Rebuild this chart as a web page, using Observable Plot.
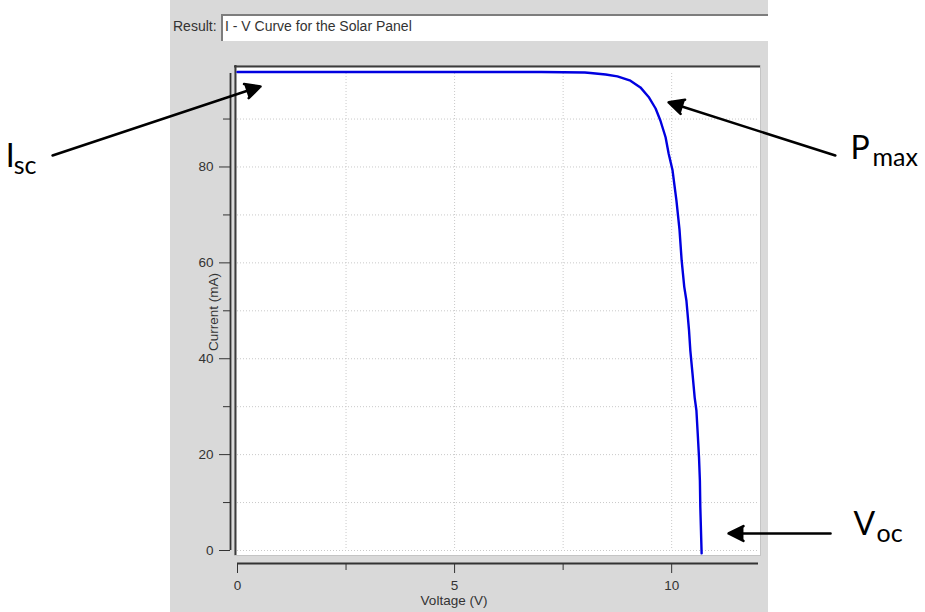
<!DOCTYPE html>
<html>
<head>
<meta charset="utf-8">
<script src="https://cdn.jsdelivr.net/npm/d3@7"></script>
<script src="https://cdn.jsdelivr.net/npm/@observablehq/plot@0.6"></script>
<style>
  html, body { margin: 0; padding: 0; background: #ffffff; }
  #wrap { position: relative; width: 925px; height: 612px; overflow: hidden; background: #ffffff; font-family: "Liberation Sans", Arial, sans-serif; }
  #panel { position: absolute; left: 170px; top: 0; width: 598px; height: 612px; background: #d9d9d9; }
  #resLabel { position: absolute; left: 173px; top: 18px; font-size: 14px; color: #333; }
  #resBox { position: absolute; left: 221px; top: 14px; width: 547px; height: 27px; background: #fff;
            border-top: 2px solid #7d7d7d; border-left: 2px solid #7d7d7d; box-sizing: border-box; }
  #resText { position: absolute; left: 225px; top: 18px; font-size: 14px; color: #333; white-space: nowrap; }
  #chart { position: absolute; left: 0; top: 0; }
</style>
</head>
<body>
<div id="wrap">
  <div id="panel"></div>
  <div id="resLabel">Result:</div>
  <div id="resBox"></div>
  <div id="resText"></div>
  <div id="chart"></div>
</div>
<script>
// ---- data ----
const titleText = "I - V Curve for the Solar Panel";
const xLabel = "Voltage (V)";
const yLabel = "Current (mA)";

const voltage = [0, 1, 2, 3, 4, 5, 6, 7, 8.0, 8.13, 8.48, 8.75, 9.05, 9.28, 9.47, 9.63, 9.74, 9.86, 9.93, 10.02, 10.11, 10.18, 10.23, 10.29, 10.34, 10.40, 10.43, 10.48, 10.53, 10.57, 10.60, 10.63, 10.65, 10.66, 10.69];
const current = [99.8, 99.8, 99.8, 99.8, 99.8, 99.8, 99.8, 99.8, 99.7, 99.6, 99.3, 98.9, 98.0, 96.6, 94.6, 92.2, 89.7, 86.2, 82.8, 79.3, 73.0, 67.0, 60.5, 55.0, 52.1, 45.9, 41.7, 36.9, 31.9, 29.2, 24.4, 19.4, 14.6, 9.0, -0.6];

const xDomain = [0, 12];
const yDomain = [0, 99.5];
const xMajorTicks = [0, 5, 10];
const xMinorTicks = [2.5, 7.5];
const xGridTicks = [2.5, 5, 7.5, 10];
const yMajorTicks = [0, 20, 40, 60, 80];
const yMinorTicks = [10, 30, 50, 70, 90];
const yGridTicks = [0, 10, 20, 30, 40, 50, 60, 70, 80, 90];

// annotations (in data units: volts, mA)
const annMain = ["I", "P", "V"];
const annSub = ["sc", "max", "oc"];
const annTipV = [0.53, 9.93, 11.31];
const annTipI = [96.8, 93.5, 3.55];
const annTailV = [-4.26, 13.77, 13.66];
const annTailI = [82.4, 82.4, 3.55];
const annLabelV = [-5.34, 14.12, 14.19];
const annLabelI = [79.9, 81.6, 3.13];

// ---- build ----
document.getElementById("resText").textContent = titleText;
const curve = voltage.map((v, k) => ({v, i: current[k]}));
const ann = annMain.map((m, k) => ({
  main: m, sub: annSub[k],
  tipV: annTipV[k], tipI: annTipI[k], tailV: annTailV[k], tailI: annTailI[k],
  labV: annLabelV[k], labI: annLabelI[k]
}));
const subDx = {I: 8, P: 22, V: 23};

const axisColor = "#333333";
const gridColor = "#c9c9c9";

const chart = Plot.plot({
  width: 925,
  height: 612,
  marginLeft: 237,
  marginRight: 167,
  marginTop: 73,
  marginBottom: 62,
  style: {background: "transparent", overflow: "visible", fontFamily: "Liberation Sans, Arial, sans-serif", fontSize: "13.5px", color: axisColor},
  x: {domain: xDomain, axis: null},
  y: {domain: yDomain, axis: null},
  marks: [
    // plot box
    Plot.frame({fill: "white", stroke: "#c4c4c4", insetLeft: -3, insetRight: -2, insetTop: -8, insetBottom: -5}),
    Plot.gridY(yGridTicks, {stroke: gridColor, strokeOpacity: 1, strokeDasharray: "1,2"}),
    Plot.gridX(xGridTicks, {stroke: gridColor, strokeOpacity: 1, strokeDasharray: "1,2"}),
    Plot.ruleY([yDomain[1]], {stroke: "#3c3c3c", strokeWidth: 2, insetLeft: -3, insetRight: -2, dy: -7}),
    Plot.ruleX([xDomain[0]], {stroke: "#3c3c3c", strokeWidth: 2, insetTop: -8, insetBottom: -5, dx: -2}),
    // curve
    Plot.line(curve, {x: "v", y: "i", stroke: "#0000e0", strokeWidth: 2.4}),
    // y axis
    Plot.ruleX([xDomain[0]], {y1: yDomain[0], y2: yDomain[1], dx: -7, stroke: axisColor, strokeWidth: 1.8}),
    Plot.axisY(yMajorTicks, {tickSize: 11, tickPadding: 6, dx: -7, label: null, fontSize: 13.5}),
    Plot.axisY(yMinorTicks, {tickSize: 7, tickFormat: () => "", dx: -7, label: null}),
    // x axis
    Plot.ruleY([yDomain[0]], {x1: xDomain[0], x2: xDomain[1], dy: 13, stroke: axisColor, strokeWidth: 1.8}),
    Plot.axisX(xMajorTicks, {tickSize: 10, tickPadding: 7, dy: 13, label: null, fontSize: 13.5}),
    Plot.axisX(xMinorTicks, {tickSize: 7, tickFormat: () => "", dy: 13, label: null}),
    // axis titles
    Plot.text([xLabel], {frameAnchor: "bottom", textAnchor: "middle", dx: -44, dy: 54, lineAnchor: "bottom", fontSize: 13.5, fill: axisColor}),
    Plot.text([yLabel], {frameAnchor: "left", textAnchor: "middle", rotate: -90, dx: -24, fontSize: 13.5, fill: axisColor}),
    // annotations
    Plot.arrow(ann, {x1: "tailV", y1: "tailI", x2: "tipV", y2: "tipI", stroke: "black", fill: "black", strokeWidth: 2.5, headLength: 10, headAngle: 53, clip: false}),
    Plot.text(ann, {x: "labV", y: "labI", text: "main", textAnchor: "start", lineAnchor: "bottom", fontSize: 32, fontFamily: "Lato, sans-serif", fill: "black"}),
    ...ann.map(a => Plot.text([a], {x: "labV", y: "labI", text: "sub", textAnchor: "start", lineAnchor: "bottom", dx: subDx[a.main], dy: 7, fontSize: 25, fontFamily: "Lato, sans-serif", fill: "black"}))
  ]
});
document.getElementById("chart").appendChild(chart);
</script>
</body>
</html>
